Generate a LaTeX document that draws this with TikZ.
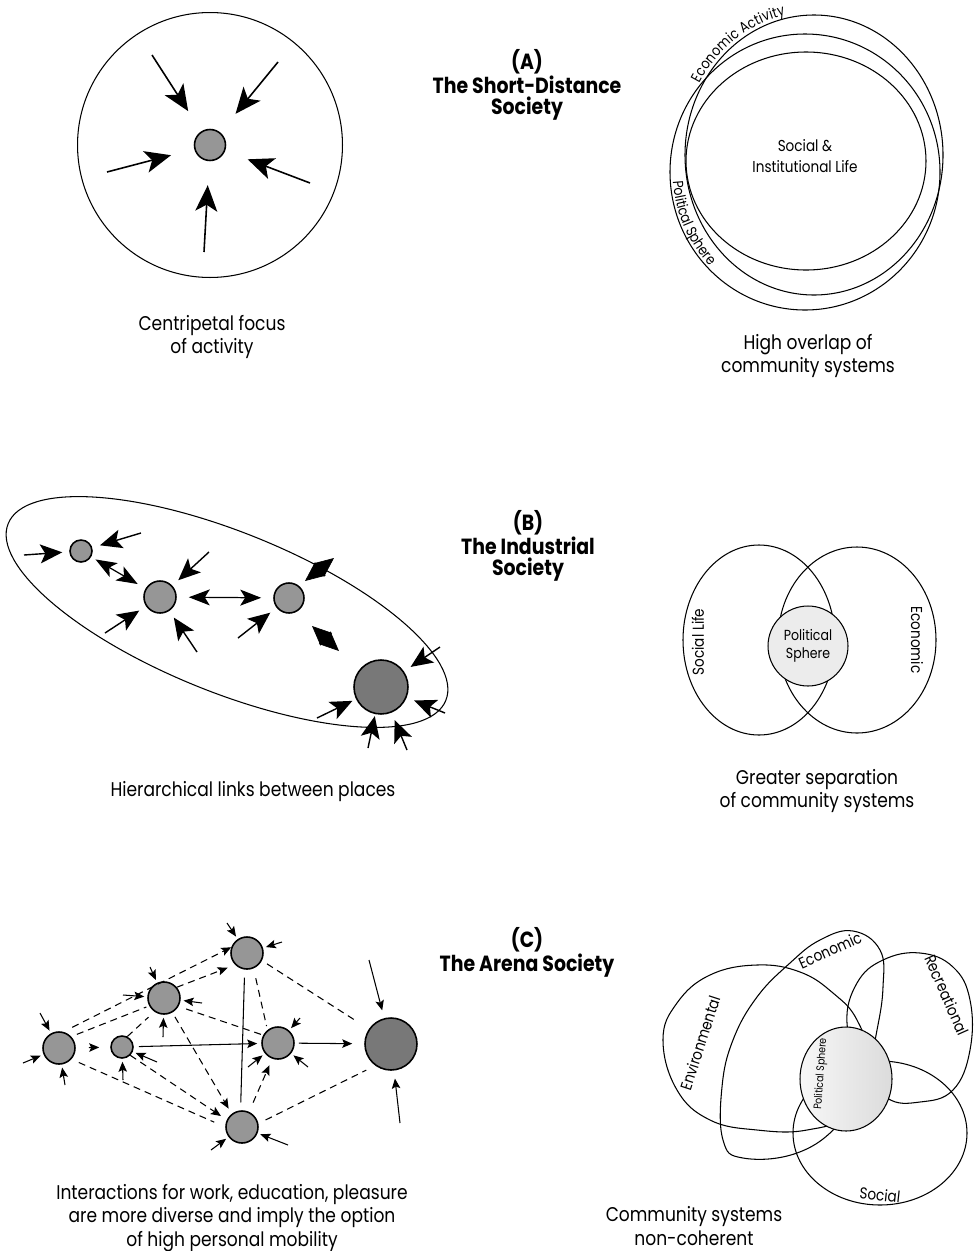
\documentclass[tikz,border=0pt]{standalone}
\usepackage{fontspec}
\setmainfont{Poppins}[FakeStretch=0.86]
\usepackage{xcolor}
\usepackage{tikz}
\usetikzlibrary{arrows.meta, positioning, calc, decorations.text}
\definecolor{spotgray}{RGB}{150,150,150}
\definecolor{spotdark}{RGB}{120,120,120}
\definecolor{spherelight}{RGB}{236,236,236}
\newcommand{\captfont}{\fontsize{11.3}{13.5}\selectfont}
\newcommand{\titlefont}{\fontsize{12.5}{11.8}\selectfont\bfseries}
\newcommand{\labfont}{\fontsize{9}{12}\selectfont}
\newcommand{\pathfont}{\fontsize{8.3}{9}\selectfont}
\newcommand{\spherefont}{\fontsize{6.2}{7}\selectfont}
\tikzset{
    ring/.style={circle, draw, line width=0.6pt, inner sep=0pt},
    spot/.style={circle, draw, line width=0.9pt, fill=spotgray, inner sep=0pt, minimum size=#1},
    bigspot/.style={spot=#1, fill=spotdark},
    polsphere/.style={circle, draw, line width=0.6pt, fill=spherelight, inner sep=0pt, minimum size=1.6cm, align=center, font=\fontsize{8.3}{10}\selectfont},
    capt/.style={align=center, font=\captfont, inner sep=0pt},
    heading/.style={align=center, font=\titlefont},
    lab/.style={align=center, font=\labfont, inner sep=1pt},
    venn/.style={line width=0.6pt},
    bigarrow/.style={line width=0.9pt, -{Stealth[length=5.2mm, width=4.4mm, inset=1.3mm]}, shorten >=4.8mm},
    midarrow/.style={line width=0.8pt, -{Stealth[length=4.4mm, width=3.8mm, inset=1mm]}, shorten >=1.6mm},
    twoway/.style={line width=0.7pt, {Stealth[length=4.2mm, width=3.2mm, inset=1mm]}-{Stealth[length=4.2mm, width=3.2mm, inset=1mm]}},
    kite/.style={{Stealth[length=3.9mm, width=3.4mm, inset=0pt]}-{Stealth[length=3.9mm, width=3.4mm, inset=0pt]}},
    smallarrow/.style={line width=0.6pt, -{Stealth[length=2mm, width=1.7mm, inset=0.4mm]}, shorten >=0.6mm},
    link/.style={line width=0.6pt, dash pattern=on 1.4mm off 1mm},
    linkarrow/.style={link, -{Stealth[length=2mm, width=1.7mm, inset=0.4mm]}},
    solidlink/.style={line width=0.6pt}
}

\begin{document}
\begin{tikzpicture}[x=0.02cm, y=-0.02cm]
    \useasboundingbox (0,0) rectangle (980,1251);

    % (A) Centripetal focus
    \node[ring, minimum size=5.3cm] (areaA) at (210,145) {};
    \node[spot=0.62cm] (focusA) at (210,145) {};
    \coordinate (inA1) at (152,55);
    \coordinate (inA2) at (278,62);
    \coordinate (inA3) at (107,172);
    \coordinate (inA4) at (310,183);
    \coordinate (inA5) at (204,252);
    \draw[bigarrow] (inA1) -- (focusA);
    \draw[bigarrow] (inA2) -- (focusA);
    \draw[bigarrow] (inA3) -- (focusA);
    \draw[bigarrow] (inA4) -- (focusA);
    \draw[bigarrow] (inA5) -- (focusA);
    \node[capt] (captA) at (212,337) {Centripetal focus\\of activity};

    \node[heading] (titleA) at (527,85) {(A)\\The Short-Distance\\Society};

    % (A) High overlap
    \draw[venn] (814,155) ellipse [x radius=129, y radius=140];
    \draw[venn] (805,172) ellipse [x radius=135, y radius=138];
    \draw[venn] (806,161) ellipse [x radius=120, y radius=109];
    \path[decorate, decoration={text along path, text={|\pathfont|Economic Activity}, raise=2pt}]
        plot[domain=150:85, samples=40, variable=\t] ({814+129*cos(\t)}, {155-140*sin(\t)});
    \path[decorate, decoration={text along path, text={|\pathfont|Political Sphere}, raise=1.5pt}]
        plot[domain=184:250, samples=40, variable=\t] ({805+135*cos(\t)}, {172-138*sin(\t)});
    \node[lab] (socInst) at (805,156) {Social \&\\Institutional Life};
    \node[capt] (captA2) at (808,356) {High overlap of\\community systems};

    % (B) Hierarchical links
    \draw[venn, rotate around={-22:(227,612)}] (227,612) ellipse [x radius=236, y radius=80];
    \node[spot=0.44cm] (b1) at (81,551) {};
    \node[spot=0.64cm] (b2) at (160,597) {};
    \node[spot=0.6cm] (b3) at (289,598) {};
    \node[bigspot=1.08cm] (b4) at (381,687) {};
    \coordinate (inB1) at (24,555);
    \coordinate (inB2) at (141,533);
    \coordinate (inB3) at (209,552);
    \coordinate (inB4) at (105,633);
    \coordinate (inB5) at (197,652);
    \coordinate (inB6) at (238,638);
    \coordinate (inB7) at (440,647);
    \coordinate (inB8) at (445,713);
    \coordinate (inB9) at (317,718);
    \coordinate (inB10) at (368,748);
    \coordinate (inB11) at (407,750);
    \draw[midarrow, shorten >=1.4mm] (inB1) -- (b1);
    \draw[midarrow] (inB2) -- (b1);
    \draw[midarrow] (inB3) -- (b2);
    \draw[midarrow] (inB4) -- (b2);
    \draw[midarrow] (inB5) -- (b2);
    \draw[midarrow] (inB6) -- (b3);
    \draw[midarrow] (inB7) -- (b4);
    \draw[midarrow] (inB8) -- (b4);
    \draw[midarrow, shorten >=0.8mm] (inB9) -- (b4);
    \draw[midarrow, shorten >=0.4mm] (inB10) -- (b4);
    \draw[midarrow] (inB11) -- (b4);
    \draw[twoway, shorten <=1mm, shorten >=1.8mm] (b1) -- (b2);
    \draw[twoway, shorten <=2.4mm, shorten >=2.4mm] (b2) -- (b3);
    \coordinate (kiteA1) at (305,581);
    \coordinate (kiteA2) at (334,558);
    \coordinate (kiteB1) at (312,626);
    \coordinate (kiteB2) at (339,651);
    \draw[kite] (kiteA1) -- (kiteA2);
    \draw[kite] (kiteB1) -- (kiteB2);
    \node[capt] (captB) at (253,792) {Hierarchical links between places};

    \node[heading] (titleB) at (528,546) {(B)\\The Industrial\\Society};

    % (B) Greater separation
    \draw[venn] (759,640) ellipse [x radius=76, y radius=95];
    \draw[venn] (857,640) ellipse [x radius=79, y radius=93];
    \node[polsphere] (polB) at (808,646) {Political\\Sphere};
    \node[lab, rotate=90] (socLife) at (698,642) {Social Life};
    \node[lab, rotate=-90] (econB) at (917,640) {Economic};
    \node[capt] (captB2) at (817,791) {Greater separation\\of community systems};

    % (C) Arena network
    \node[spot=0.64cm] (c1) at (59,1048) {};
    \node[spot=0.44cm] (c2) at (122,1047) {};
    \node[spot=0.64cm] (c3) at (164,998) {};
    \node[spot=0.64cm] (c4) at (247,953) {};
    \node[spot=0.64cm] (c5) at (278,1043) {};
    \node[spot=0.64cm] (c6) at (242,1127) {};
    \node[bigspot=1.04cm] (c7) at (391,1044) {};

    \draw[linkarrow, shorten <=2mm] (c1.75) -- (c4.160);
    \draw[link, shorten <=1.2mm, shorten >=0.6mm] (c1.43) -- (c3.208);
    \draw[linkarrow, shorten >=1.6mm] (c3.40) -- (c4.225);
    \draw[link, shorten <=1.6mm] (c3.330) -- (c5.152);
    \draw[linkarrow, shorten <=1mm, shorten >=1.2mm] (c3.300) -- (c6.128);
    \draw[link, shorten >=1.6mm] (c2.63) -- (c3.235);
    \draw[linkarrow, shorten >=1.4mm] (c2.315) -- (c6.155);
    \draw[link, shorten <=1.6mm, shorten >=2.4mm] (c1.318) -- (c6.180);
    \draw[link, shorten <=2mm, shorten >=0.8mm] (c4.293) -- (c5.129);
    \draw[link, shorten <=1.2mm, shorten >=3.2mm] (c4.333) -- (c7.146);
    \draw[linkarrow, shorten <=2mm, shorten >=1.4mm] (c6.65) -- (c5.250);
    \draw[link, shorten <=1.6mm, shorten >=2mm] (c6.12) -- (c7.234);

    \draw[smallarrow, shorten <=2.6mm, shorten >=2.2mm] (c1) -- (c2);
    \draw[smallarrow, shorten <=1mm, shorten >=0.8mm] (c2) -- (c5);
    \draw[smallarrow, shorten <=0.8mm, shorten >=2.4mm] (c5) -- (c7);
    \draw[solidlink, shorten <=1.6mm, shorten >=1.6mm] (c4.262) -- (c6.95);

    % short arrows into the places
    \coordinate (inC1) at (40,1013);
    \coordinate (inC2) at (23,1063);
    \coordinate (inC3) at (65,1085);
    \coordinate (inC4) at (123,1080);
    \coordinate (inC5) at (157,1062);
    \coordinate (inC6) at (150,967);
    \coordinate (inC7) at (123,995);
    \coordinate (inC8) at (202,1003);
    \coordinate (inC9) at (163,1037);
    \coordinate (inC10) at (227,923);
    \coordinate (inC11) at (282,942);
    \coordinate (inC12) at (300,1018);
    \coordinate (inC13) at (308,1067);
    \coordinate (inC14) at (248,1067);
    \coordinate (inC15) at (211,1150);
    \coordinate (inC16) at (288,1145);
    \coordinate (inC17) at (369,960);
    \coordinate (inC18) at (400,1123);
    \draw[smallarrow] (inC1) -- (c1);
    \draw[smallarrow] (inC2) -- (c1);
    \draw[smallarrow] (inC3) -- (c1);
    \draw[smallarrow] (inC4) -- (c2);
    \draw[smallarrow] (inC5) -- (c2);
    \draw[smallarrow] (inC6) -- (c3);
    \draw[smallarrow] (inC7) -- (c3);
    \draw[smallarrow] (inC8) -- (c3);
    \draw[smallarrow] (inC9) -- (c3);
    \draw[smallarrow] (inC10) -- (c4);
    \draw[smallarrow] (inC11) -- (c4);
    \draw[smallarrow] (inC12) -- (c5);
    \draw[smallarrow] (inC13) -- (c5);
    \draw[smallarrow] (inC14) -- (c5);
    \draw[smallarrow] (inC15) -- (c6);
    \draw[smallarrow] (inC16) -- (c6);
    \draw[smallarrow, shorten >=1.6mm] (inC17) -- (c7);
    \draw[smallarrow, shorten >=1.6mm] (inC18) -- (c7);
    \node[capt] (captC) at (232,1218) {Interactions for work, education, pleasure\\are more diverse and imply the option\\of high personal mobility};

    \node[heading] (titleC) at (527,952) {(C)\\The Arena Society};

    % (C) Non-coherent systems
    \draw[venn] plot[smooth cycle, tension=0.7] coordinates {(663,1040) (677,1003) (710,975) (757,965) (800,972) (833,993) (857,1020) (867,1060) (847,1113) (807,1130) (757,1130) (710,1120) (677,1090)};
    \draw[venn] plot[smooth cycle, tension=0.7] coordinates {(853,931) (880,950) (883,987) (877,1030) (865,1080) (840,1123) (797,1153) (743,1158) (723,1140) (722,1087) (733,1040) (757,997) (790,963) (820,940)};
    \draw[venn] plot[smooth cycle, tension=0.7] coordinates {(847,1023) (857,983) (883,960) (920,953) (953,967) (970,1000) (970,1050) (953,1090) (920,1102) (887,1098) (862,1065)};
    \draw[venn] (880,1133) ellipse [x radius=87, y radius=72];
    \draw[venn, left color=spherelight!40, right color=gray!28] (846,1079) ellipse [x radius=46, y radius=52];
    \node[font=\spherefont, inner sep=0pt, rotate=86] (polC) at (821,1074) {Political Sphere};
    \node[lab, rotate=24] (econC) at (830,950) {Economic};
    \node[lab, rotate=-66] (recC) at (947,995) {Recreational};
    \node[lab, rotate=72] (envC) at (700,1043) {Environmental};
    \node[lab, rotate=-6] (socC) at (880,1195) {Social};
    \node[capt] (captC2) at (694,1226) {Community systems\\non-coherent};
\end{tikzpicture}
\end{document}
